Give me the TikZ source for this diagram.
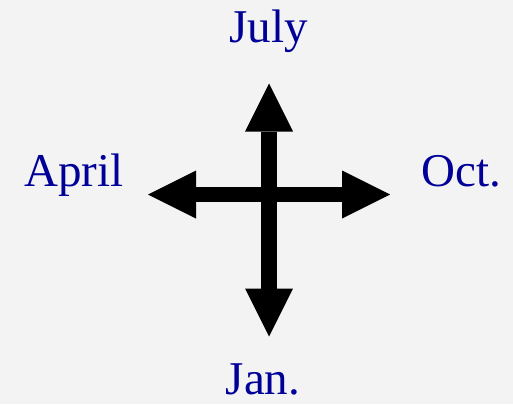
\documentclass[tikz,border=0pt]{standalone}
\usepackage{fontspec}
\setmainfont{Liberation Serif}
\usetikzlibrary{arrows.meta}
\definecolor{bgcol}{RGB}{243,243,243}
\definecolor{monthcol}{RGB}{0,0,153}
\tikzset{
  month/.style={anchor=base, text=monthcol, font=\fontsize{47}{51}\selectfont, inner sep=0pt},
  bigarrow/.style={line width=15.5pt, draw=black,
    {Triangle[width=48pt,length=48pt,line width=0pt]}-{Triangle[width=48pt,length=48pt,line width=0pt]}}
}
\begin{document}
\begin{tikzpicture}[x=1pt,y=-1pt]
\useasboundingbox[fill=bgcol] (0,0) rectangle (513,404);
\coordinate (n) at (269,83.5);
\coordinate (s) at (269,336.5);
\coordinate (w) at (148,194.5);
\coordinate (e) at (390,194.5);
\draw[bigarrow] (s) -- (n);
\draw[bigarrow] (w) -- (e);
\node[month] (july) at (268.5,43) {July};
\node[month] (april) at (74,186) {April};
\node[month] (oct) at (461,186) {Oct.};
\node[month] (jan) at (263,394.5) {Jan.};
\end{tikzpicture}
\end{document}
